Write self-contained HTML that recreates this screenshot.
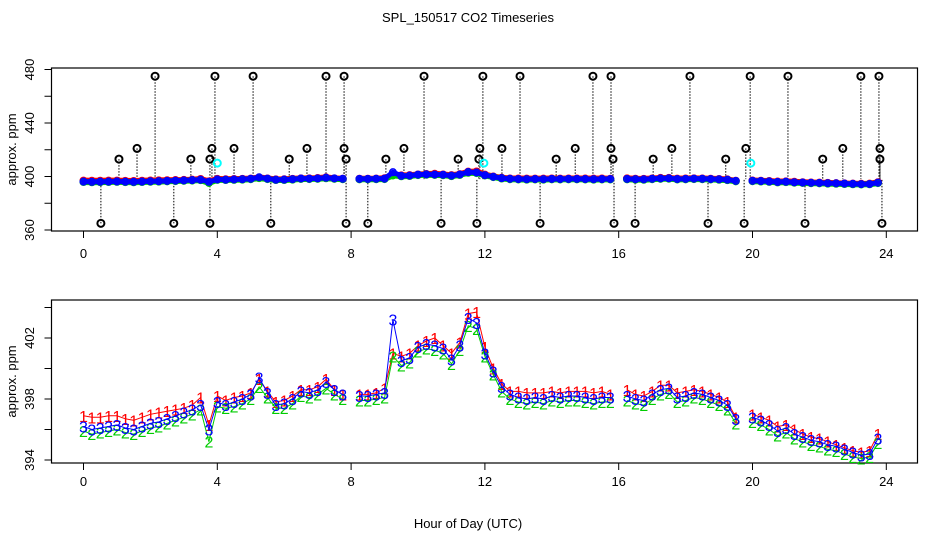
<!DOCTYPE html>
<html><head><meta charset="utf-8"><style>
html,body{margin:0;padding:0;background:#fff}
svg{display:block;font-family:"Liberation Sans",sans-serif}
</style></head><body>
<svg id="chart" width="936" height="540" viewBox="0 0 936 540">
<text x="468" y="22" text-anchor="middle" font-size="13">SPL_150517  CO2 Timeseries</text>
<text x="468" y="528" text-anchor="middle" font-size="13">Hour of Day (UTC)</text>
<g id="top"></g>
<g id="bot"></g>
</svg>
<script>
const s1 = [396.9,396.8,396.8,396.9, 396.9,396.7,396.6,396.8, 397.0,397.1,397.2,397.3, 397.4,397.6,398.1,396.3,
398.2,397.9,398.1,398.2, 398.4,399.3,398.5,397.8, 397.9,398.2,398.6,398.6, 398.8,399.3,398.6,398.3,
null,398.3,398.3,398.4, 398.7,401.0,400.8,401.0, 401.5,401.8,402.0,401.5, 401.0,401.7,403.6,403.7,
401.4,400.0,399.0,398.5, 398.5,398.4,398.4,398.4, 398.5,398.4,398.5,398.5, 398.5,398.4,398.5,398.3,
null,398.6,398.3,398.2, 398.5,398.9,398.9,398.4, 398.5,398.6,398.5,398.3, 398.1,397.8,396.8,null,
397.0,396.8,396.6,396.2, 396.3,396.0,395.7,395.5, 395.4,395.2,395.0,394.8, 394.6,394.5,394.6,395.7];
const s2 = [395.9,395.7,395.8,395.9, 396.0,395.8,395.7,395.9, 396.1,396.2,396.4,396.6, 396.8,397.0,397.3,395.2,
397.5,397.4,397.5,397.7, 398.0,398.8,398.1,397.4, 397.4,397.7,398.2,398.1, 398.3,398.7,398.3,398.0,
null,397.9,397.9,398.0, 398.1,400.8,400.2,400.4, 401.1,401.3,401.2,401.0, 400.3,401.2,402.8,402.6,
400.8,399.6,398.5,398.0, 397.8,397.7,397.8,397.7, 397.9,397.8,397.9,397.9, 397.8,397.7,397.8,397.8,
null,397.9,397.7,397.6, 398.0,398.3,398.4,397.8, 397.9,398.1,398.0,397.8, 397.6,397.3,396.4,null,
396.5,396.3,396.0,395.6, 395.8,395.4,395.2,395.0, 394.9,394.7,394.6,394.4, 394.2,394.1,394.2,395.1];
const s3 = [396.2,396.0,396.1,396.2, 396.3,396.1,396.0,396.2, 396.4,396.5,396.7,396.9, 397.1,397.3,397.6,396.0,
397.8,397.6,397.8,398.0, 398.3,399.4,398.4,397.6, 397.7,398.0,398.5,398.4, 398.6,399.1,398.6,398.3,
null,398.2,398.2,398.3, 398.4,403.2,400.5,400.7, 401.4,401.6,401.5,401.3, 400.6,401.5,403.3,403.0,
401.0,399.8,398.8,398.3, 398.1,398.0,398.1,398.0, 398.2,398.1,398.2,398.2, 398.1,398.0,398.1,398.1,
null,398.2,398.0,397.9, 398.3,398.6,398.7,398.1, 398.2,398.4,398.3,398.1, 397.9,397.6,396.7,null,
396.8,396.6,396.3,395.9, 396.1,395.7,395.5,395.3, 395.2,395.0,394.9,394.7, 394.5,394.3,394.4,395.4];
const outlierHours = [2.14,3.93,5.07,7.25,7.79,10.18,11.94,13.05,15.23,15.77,18.13,19.93,21.06,23.24,23.78,
1.6,3.84,4.5,6.68,7.79,9.58,11.85,12.51,14.7,15.77,17.59,19.8,22.7,23.81,
1.06,3.21,3.78,6.15,7.85,9.04,11.2,11.82,14.13,15.83,17.03,19.2,22.1,23.81,
0.52,2.7,3.78,5.6,7.85,8.5,10.69,11.76,13.65,15.86,16.49,18.67,19.75,21.57,23.87];
const outlierValues = [475,475,475,475,475,475,475,475,475,475,475,475,475,475,475,
421,421,421,421,421,421,421,421,421,421,421,421,421,421,
413,413,413,413,413,413,413,413,413,413,413,413,413,413,
365,365,365,365,365,365,365,365,365,365,365,365,365,365,365];
const flagHours = [4.0,11.97,19.95];
const flagValues = [410,410,410];
const xTicks = [0,4,8,12,16,20,24];
const topYTicks = [360,380,400,420,440,460,480];
const topYLabels = [360,400,440,480];
const botYTicks = [394,396,398,400,402,404];
const botYLabels = [394,398,402];

const NS='http://www.w3.org/2000/svg';
function mk(parent,tag,attrs){const e=document.createElementNS(NS,tag);for(const k in attrs)e.setAttribute(k,attrs[k]);parent.appendChild(e);return e;}
const L=51.5,R=917.5;
const xs=h=>83.5+33.45*h;
const yTop=v=>230-(v-360)*1.3375;
const yBot=v=>338-(v-402)*15.25;
const hours=s3.map((_,i)=>i*0.25);

function frame(g,top,bot,ys,yt,yl,labY){
  const r=mk(g,'rect',{x:L,y:top,width:R-L,height:bot-top,fill:'none',stroke:'#000','stroke-width':1.2});
  
  
  xTicks.forEach(t=>{
    const ln=mk(g,'line',{x1:xs(t),x2:xs(t),y1:bot,y2:bot+7,stroke:'#000'});
    
    
    const tx=mk(g,'text',{x:xs(t),y:labY,'text-anchor':'middle','font-size':13});
    tx.textContent=t;
    
    
  });
  yt.forEach(v=>{
    const ln=mk(g,'line',{x1:L-7,x2:L,y1:ys(v),y2:ys(v),stroke:'#000'});
    
    
  });
  yl.forEach(v=>{
    const tx=mk(g,'text',{x:0,y:0,'text-anchor':'middle','font-size':13,transform:`translate(34,${ys(v)}) rotate(-90)`});
    tx.textContent=v;
    
    
  });
  const t=mk(g,'text',{x:0,y:0,'text-anchor':'middle','font-size':13,transform:`translate(16,${(top+bot)/2}) rotate(-90)`});
  t.textContent='approx. ppm';
  
  
}
function segs(arr,ys){
  let d='',pen=false;
  arr.forEach((v,i)=>{if(v==null){pen=false;return;}d+=(pen?'L':'M')+xs(hours[i]).toFixed(1)+','+ys(v).toFixed(1);pen=true;});
  return d;
}
// TOP
const gt=document.getElementById('top');
frame(gt,68,231,yTop,topYTicks,topYLabels,258);
outlierHours.forEach((h,i)=>{
  const ln=mk(gt,'line',{x1:xs(h),x2:xs(h),y1:yTop(outlierValues[i]),y2:yTop(398),stroke:'#000','stroke-dasharray':'1.5,1.5','stroke-width':1});
  
  
});
[[s1,'#f00'],[s2,'#0c0'],[s3,'#00f']].forEach(([s,c],k)=>{
  const p=mk(gt,'path',{d:segs(s,yTop),fill:'none',stroke:c,'stroke-width':k==2?5:6,'stroke-linejoin':'round','stroke-linecap':'round'});
  
  
  s.forEach((v,i)=>{if(v==null)return;
    const ci=mk(gt,'circle',{cx:xs(hours[i]),cy:yTop(v),r:3.3,fill:'none',stroke:c,'stroke-width':1.5});
    
    
  });
});
outlierHours.forEach((h,i)=>{
  const ci=mk(gt,'circle',{cx:xs(h),cy:yTop(outlierValues[i]),r:3.5,fill:'none',stroke:'#000','stroke-width':2});
  
  
});
flagHours.forEach((h,i)=>{
  const ci=mk(gt,'circle',{cx:xs(h),cy:yTop(flagValues[i]),r:3.5,fill:'none',stroke:'#0ff','stroke-width':2});
  
  
});
// BOTTOM
const gb=document.getElementById('bot');
frame(gb,300,463,yBot,botYTicks,botYLabels,486);
[[s1,'#f00','1'],[s2,'#0c0','2'],[s3,'#00f','3']].forEach(([s,c,ch],k)=>{
  const p=mk(gb,'path',{d:segs(s,yBot),fill:'none',stroke:c,'stroke-width':1});
  
  
  s.forEach((v,i)=>{if(v==null)return;
    const tx=mk(gb,'text',{x:xs(hours[i]),y:yBot(v)+6,'text-anchor':'middle','font-size':16,fill:c});
    tx.textContent=ch;
    
    
  });
});
</script>
</body></html>
